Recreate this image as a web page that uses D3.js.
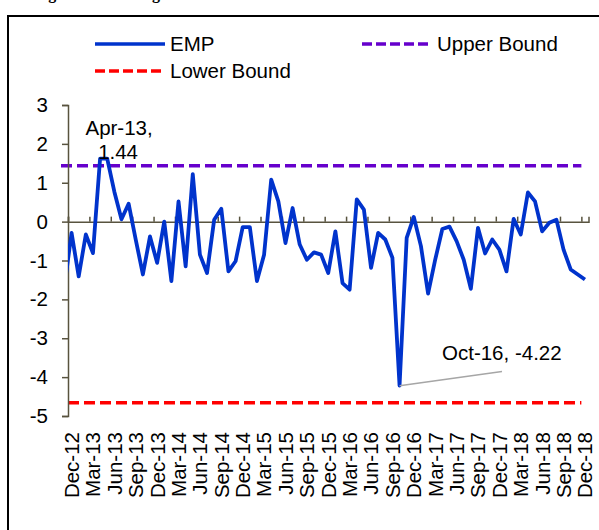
<!DOCTYPE html>
<html>
<head>
<meta charset="utf-8">
<script src="https://cdnjs.cloudflare.com/ajax/libs/d3/7.8.5/d3.min.js"></script>
<style>
  body { margin: 0; background: #fff; }
  svg { display: block; }
  text { font-family: "Liberation Sans", Arial, sans-serif; fill: #000; }
</style>
</head>
<body>
<div id="vis"></div>
<script>

// monthly EMP index, Nov-12 .. Dec-18 (Nov-12 sits outside the axis range and is clipped)
var firstMonth = new Date(2012, 10, 1);
var lastMonth = new Date(2018, 11, 1);
var emp = [-1.66,
  -0.29, -1.41, -0.33, -0.81, 1.62, 1.62, 0.77, 0.06, 0.46, -0.46, -1.36, -0.38,
  -1.06, 0.00, -1.53, 0.52, -1.15, 1.22, -0.85, -1.32, 0.05, 0.33, -1.28, -1.02,
  -0.14, -0.14, -1.53, -0.85, 1.08, 0.52, -0.55, 0.35, -0.59, -0.98, -0.79, -0.85,
  -1.32, -0.25, -1.58, -1.75, 0.57, 0.31, -1.19, -0.29, -0.46, -0.93, -4.22, -0.42,
  0.12, -0.63, -1.85, -0.98, -0.19, -0.13, -0.50, -0.98, -1.73, -0.16, -0.82, -0.46,
  -0.72, -1.28, 0.07, -0.33, 0.75, 0.52, -0.25, -0.03, 0.05, -0.72, -1.23, -1.36,
  -1.49];

var upperBound = 1.44;
var lowerBound = -4.66;

var yTicks = [3, 2, 1, 0, -1, -2, -3, -4, -5];

// annotated points
var notes = [
  { month: 'Apr-13', lines: ['Apr-13,', '1.44'] },
  { month: 'Oct-16', lines: ['Oct-16, -4.22'] }
];

var legendItems = ['EMP', 'Upper Bound', 'Lower Bound'];

var fmt = d3.timeFormat('%b-%y');
var months = d3.timeMonths(firstMonth, d3.timeMonth.offset(lastMonth, 1)).map(fmt);
var shown = months.slice(1);              // Dec-12 .. Dec-18 on the axis
var tickLabels = shown.filter(function (d, i) { return i % 3 === 0; });

var width = 599, height = 530;
var plotL = 68, plotR = 588.5, plotT = 105, plotB = 416;
var fontSize = 20.5;

var svg = d3.select('#vis').append('svg')
  .attr('width', width)
  .attr('height', height);

// figure title, mostly cut off at the top of the page
svg.append('text')
  .attr('x', 34)
  .attr('y', -1)
  .style('font-family', '"Liberation Serif", "Times New Roman", serif')
  .style('font-weight', 'bold')
  .style('font-size', '16px')
  .text('Figure 3: Exchange Market Pressure');

// outer frame
svg.append('rect')
  .attr('x', 8).attr('y', 16)
  .attr('width', 620).attr('height', 540)
  .attr('fill', 'none')
  .attr('stroke', '#000')
  .attr('stroke-width', 2);

// category index -> x (point i sits in the middle of its slot)
var x = d3.scaleLinear().domain([0, shown.length]).range([plotL, plotR]);
var xOf = function (name) { return x(shown.indexOf(name) + 0.5); };
var y = d3.scaleLinear().domain([-5, 3]).range([plotB, plotT]);

var axisColor = '#58533f';

svg.append('clipPath').attr('id', 'plot')
  .append('rect')
  .attr('x', plotL).attr('y', 0)
  .attr('width', plotR - plotL).attr('height', height);

// bounds
svg.append('line')
  .attr('x1', plotL - 7).attr('x2', x(72))
  .attr('y1', y(upperBound)).attr('y2', y(upperBound))
  .attr('stroke', '#6600cc')
  .attr('stroke-width', 3.5)
  .attr('stroke-dasharray', '11,5');

svg.append('line')
  .attr('x1', plotL).attr('x2', x(72))
  .attr('y1', y(lowerBound)).attr('y2', y(lowerBound))
  .attr('stroke', '#ff0000')
  .attr('stroke-width', 3.5)
  .attr('stroke-dasharray', '11,5');

// y axis (plain hyphen minus, like the original)
var yAxis = svg.append('g').attr('transform', 'translate(' + plotL + ',0)')
  .call(d3.axisLeft(y).tickValues(yTicks).tickSize(6).tickPadding(14)
    .tickFormat(function (d) { return String(d); }));
yAxis.select('.domain').attr('stroke', axisColor).attr('stroke-width', 1.5);
yAxis.selectAll('.tick line').attr('stroke', axisColor).attr('stroke-width', 1.5);
yAxis.selectAll('.tick text')
  .style('font-size', fontSize + 'px')
  .style('font-family', '"Liberation Sans", Arial, sans-serif')
  .attr('fill', '#000');

// x axis along zero, ticks every 3 months pointing up
var tickIdx = d3.range(0, shown.length, 3);
var xAxis = svg.append('g').attr('transform', 'translate(0,' + y(0) + ')')
  .call(d3.axisTop(x).tickValues(tickIdx).tickSize(5).tickFormat(''));
xAxis.select('.domain').attr('stroke', axisColor).attr('stroke-width', 1.5);
xAxis.selectAll('.tick line').attr('stroke', axisColor).attr('stroke-width', 1.5);

// rotated month labels below the plot
svg.append('g').selectAll('text')
  .data(tickLabels)
  .enter().append('text')
  .attr('transform', function (d) { return 'translate(' + xOf(d) + ',432) rotate(-90)'; })
  .attr('text-anchor', 'end')
  .attr('dy', '0.36em')
  .style('font-size', fontSize + 'px')
  .text(function (d) { return d; });

// EMP line
var line = d3.line()
  .x(function (d, i) { return x(i - 1 + 0.5); })
  .y(function (d) { return y(d); });

svg.append('path')
  .datum(emp)
  .attr('clip-path', 'url(#plot)')
  .attr('d', line)
  .attr('fill', 'none')
  .attr('stroke', '#0033cc')
  .attr('stroke-width', 3.8)
  .attr('stroke-linejoin', 'round');

// annotations
var apr = notes[0];
svg.append('text')
  .attr('x', xOf(apr.month) + 19)
  .attr('y', 135)
  .attr('text-anchor', 'middle')
  .style('font-size', fontSize + 'px')
  .text(apr.lines[0]);
svg.append('text')
  .attr('x', xOf(apr.month) + 18)
  .attr('y', 159)
  .attr('text-anchor', 'middle')
  .style('font-size', fontSize + 'px')
  .text(apr.lines[1]);

var oct = notes[1];
var octVal = emp[months.indexOf(oct.month)];
svg.append('line')
  .attr('x1', xOf(oct.month)).attr('y1', y(octVal))
  .attr('x2', 502).attr('y2', 371.5)
  .attr('stroke', '#a6a6a6')
  .attr('stroke-width', 1.5);
svg.append('text')
  .attr('x', 442)
  .attr('y', 360)
  .style('font-size', fontSize + 'px')
  .text(oct.lines[0]);

// legend
var legend = [
  { name: legendItems[0], x: 95, y: 44, color: '#0033cc', dash: null },
  { name: legendItems[1], x: 362, y: 44, color: '#6600cc', dash: '10,4' },
  { name: legendItems[2], x: 95, y: 71, color: '#ff0000', dash: '10,4' }
];

var lg = svg.append('g').selectAll('g')
  .data(legend)
  .enter().append('g')
  .attr('transform', function (d) { return 'translate(' + d.x + ',' + d.y + ')'; });

lg.append('line')
  .attr('x1', 0).attr('x2', 70)
  .attr('stroke', function (d) { return d.color; })
  .attr('stroke-width', 3.5)
  .attr('stroke-dasharray', function (d) { return d.dash; });

lg.append('text')
  .attr('x', 75)
  .attr('dy', '0.35em')
  .style('font-size', fontSize + 'px')
  .text(function (d) { return d.name; });

</script>
</body>
</html>
